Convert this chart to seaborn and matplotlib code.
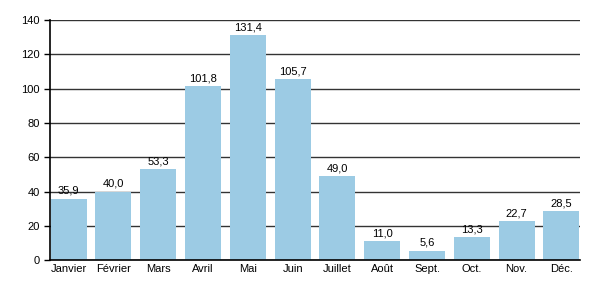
import matplotlib
matplotlib.use("Agg")
import matplotlib.pyplot as plt
import seaborn as sns
import pandas as pd

months = ["Janvier", "Février", "Mars", "Avril", "Mai", "Juin", "Juillet",
          "Août", "Sept.", "Oct.", "Nov.", "Déc."]
values = [35.9, 40.0, 53.3, 101.8, 131.4, 105.7, 49.0, 11.0, 5.6, 13.3, 22.7, 28.5]
yticks = [0, 20, 40, 60, 80, 100, 120, 140]

sns.set_theme(style="white")
plt.rcParams['font.family'] = ['Liberation Sans', 'DejaVu Sans']
plt.rcParams['text.color'] = 'black'
plt.rcParams['xtick.color'] = 'black'
plt.rcParams['ytick.color'] = 'black'

df = pd.DataFrame({"mois": months, "valeur": values})

fig = plt.figure(figsize=(6, 3), dpi=100)
ax = fig.add_axes([0.083, 0.133, 0.884, 0.8])
sns.barplot(data=df, x="mois", y="valeur", color="#9ccbe4", saturation=1,
            width=0.8, linewidth=0, edgecolor="none", ax=ax, zorder=2)

ax.set_ylim(0, 140)
ax.set_yticks(yticks)
ax.set_xlim(-0.42, 11.42)
ax.yaxis.grid(True, color="#333333", linewidth=1, zorder=0)
ax.set_axisbelow(True)
for s in ["top", "right"]:
    ax.spines[s].set_visible(False)
for s in ["left", "bottom"]:
    ax.spines[s].set_color("black")
    ax.spines[s].set_linewidth(1.2)
    ax.spines[s].set_zorder(3)
ax.set_xlabel("")
ax.set_ylabel("")
ax.tick_params(axis="y", length=4, width=1, color="black", left=True, labelsize=8, pad=3,
               labelcolor="black")
ax.tick_params(axis="x", length=0, labelsize=8, pad=3, labelcolor="black")

for i, v in enumerate(values):
    ax.text(i, v + 1.5, f"{v:.1f}".replace(".", ","), ha="center", va="bottom",
            fontsize=8, color="black")

fig.savefig("out.png", dpi=100)
